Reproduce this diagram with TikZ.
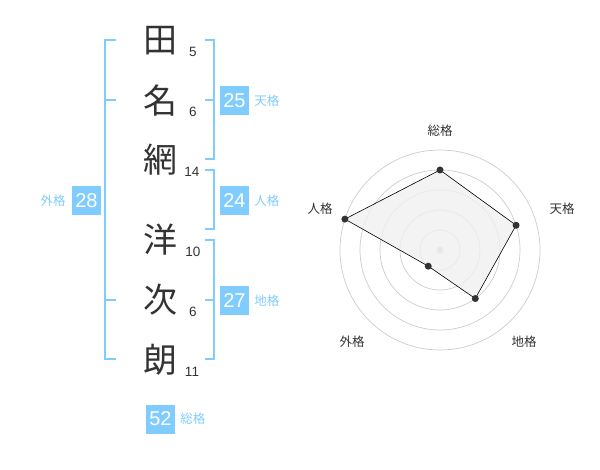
\documentclass[tikz,border=0pt]{standalone}
\usepackage{fontspec}
\setmainfont{Liberation Sans}
\newfontfamily\jfont{Noto Sans CJK JP}
\usetikzlibrary{positioning}
\definecolor{skyblue}{HTML}{80CCFF}
\definecolor{inkgray}{HTML}{333333}
\definecolor{ringgray}{HTML}{CCCCCC}

\begin{document}
\begin{tikzpicture}
[x=1pt, y=-1pt,
    kanji/.style={font=\jfont\fontsize{34}{34}\selectfont, text=inkgray, inner sep=0pt},
    stroke/.style={font=\fontsize{13.5}{13.5}\selectfont, text=inkgray, inner sep=0pt},
    scorebox/.style={fill=skyblue, text=white, minimum size=29pt, inner sep=0pt,
        font=\fontsize{20}{20}\selectfont},
    scorelabel/.style={text=skyblue, font=\jfont\fontsize{12.5}{12.5}\selectfont, inner sep=0pt},
    bracket/.style={draw=skyblue, line width=2pt},
    axislabel/.style={text=inkgray, font=\jfont\fontsize{12.5}{12.5}\selectfont, inner sep=0pt},
    ring/.style={draw=ringgray, line width=0.7pt},
    dot/.style={circle, fill=inkgray, inner sep=0pt, minimum size=7pt}
    ]
    \useasboundingbox (0,0) rectangle (600,470);

    % name characters and stroke counts
    \node [kanji] (c1) at (160,41)  {田};
    \node [kanji] (c2) at (160,101) {名};
    \node [kanji] (c3) at (160,160) {網};
    \node [kanji] (c4) at (160,240) {洋};
    \node [kanji] (c5) at (160,300) {次};
    \node [kanji] (c6) at (160,360) {朗};
    \node [stroke] (n1) at (193,52)  {5};
    \node [stroke] (n2) at (193,112) {6};
    \node [stroke] (n3) at (192,172) {14};
    \node [stroke] (n4) at (193,252) {10};
    \node [stroke] (n5) at (193,312) {6};
    \node [stroke] (n6) at (192,372) {11};

    % brackets
    \draw [bracket] (116,40) -- (105,40) -- (105,359) -- (116,359);
    \draw [bracket] (105,100) -- (116,100);
    \draw [bracket] (105,300) -- (116,300);
    \draw [bracket] (205,40) -- (214,40) -- (214,159) -- (205,159);
    \draw [bracket] (214,100) -- (205,100);
    \draw [bracket] (205,170) -- (214,170) -- (214,229) -- (205,229);
    \draw [bracket] (205,240) -- (214,240) -- (214,359) -- (205,359);
    \draw [bracket] (214,300) -- (205,300);

    % scores
    \node [scorebox] (ten) at (234.5,100.5) {25};
    \node [scorelabel, right=5pt of ten] {天格};
    \node [scorebox] (jin) at (234.5,200.5) {24};
    \node [scorelabel, right=5pt of jin] {人格};
    \node [scorebox] (chi) at (234.5,300.5) {27};
    \node [scorelabel, right=5pt of chi] {地格};
    \node [scorebox] (gai) at (86.5,200.5) {28};
    \node [scorelabel, left=6pt of gai] {外格};
    \node [scorebox] (sou) at (160.5,419) {52};
    \node [scorelabel, right=5pt of sou] {総格};

    % radar chart
    \begin{scope}[shift={(440,250)}, yscale=-1]
        \foreach \r in {20,40,60,80,100}
            \draw [ring] (0,0) circle (\r);
        \fill [ringgray] (0,0) circle (3.5);
        \coordinate (p1) at (90:80);
        \coordinate (p2) at (18:80);
        \coordinate (p3) at (-54:60);
        \coordinate (p4) at (234:20);
        \coordinate (p5) at (162:100);
        \filldraw [fill=black!6, fill opacity=0.8, draw=black, line width=0.6pt]
            (p1) -- (p2) -- (p3) -- (p4) -- (p5) -- cycle;
        \foreach \p in {p1,p2,p3,p4,p5}
            \node [dot] at (\p) {};
        \node [axislabel] (l1) at (0,119)    {総格};
        \node [axislabel] (l2) at (122,41)   {天格};
        \node [axislabel] (l3) at (84,-92)   {地格};
        \node [axislabel] (l4) at (-88,-92)  {外格};
        \node [axislabel] (l5) at (-120,41)  {人格};
    \end{scope}
\end{tikzpicture}
\end{document}
